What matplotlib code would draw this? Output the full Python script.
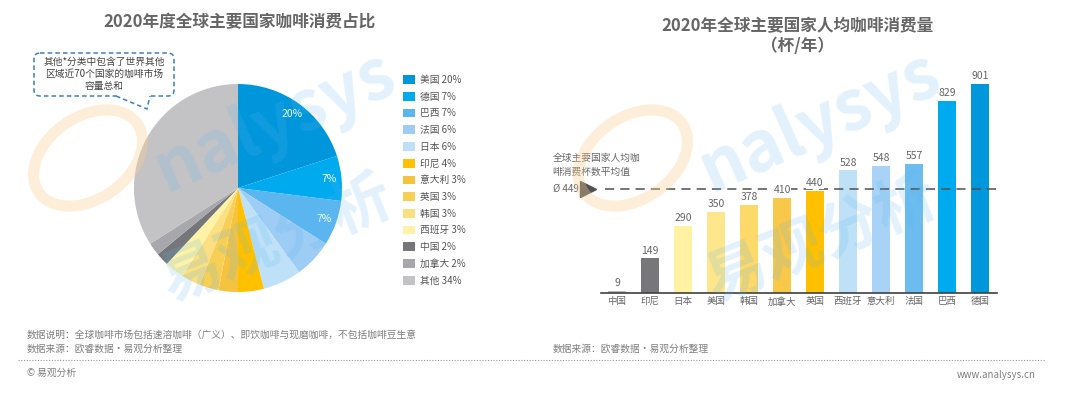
import matplotlib
matplotlib.use("Agg")
import matplotlib.pyplot as plt
from matplotlib.patches import FancyBboxPatch, Ellipse

plt.rcParams['font.family'] = ['Noto Sans CJK SC', 'DejaVu Sans']

# ---- data ----
pie_labels = ["美国", "德国", "巴西", "法国", "日本", "印尼", "意大利", "英国", "韩国", "西班牙", "中国", "加拿大", "其他"]
pie_values = [20, 7, 7, 6, 6, 4, 3, 3, 3, 3, 2, 2, 34]
pie_colors = ["#0096DB", "#00AAEF", "#5BB5EF", "#9DCDF5", "#BEE1F8", "#FFC000", "#F6C340",
              "#F8CF55", "#FBDF80", "#FEF2A6", "#75767A", "#A8A8AC", "#C3C3C5"]

bar_cats = ["中国", "印尼", "日本", "美国", "韩国", "加拿大", "英国", "西班牙", "意大利", "法国", "巴西", "德国"]
bar_values = [9, 149, 290, 350, 378, 410, 440, 528, 548, 557, 829, 901]
bar_colors = ["#BDBDBD", "#77777B", "#FFF3A3", "#FEE68C", "#FDD96A", "#F8C84A", "#FFC000",
              "#BEE1F8", "#A8D3F6", "#6DBCF0", "#00AAEF", "#0098DB"]
avg_value = 449

W, H = 1080, 396
fig = plt.figure(figsize=(W / 100, H / 100), dpi=100)

def fr(x0, y0, x1, y1):
    # pixel box -> figure fraction rect
    return [x0 / W, 1 - y1 / H, (x1 - x0) / W, (y1 - y0) / H]

# ---- pie ----
axp = fig.add_axes(fr(134, 84, 342, 292))
wedges, _, autotexts = axp.pie(
    pie_values, colors=pie_colors, startangle=90, counterclock=False,
    autopct=lambda p: "%d%%" % round(p) if 6.5 <= p <= 25 else "", pctdistance=0.88,
    wedgeprops=dict(linewidth=0), textprops=dict(color="white", fontsize=7.5))
axp.set_xlim(-1, 1)
axp.set_ylim(-1, 1)
axp.set_aspect("equal")

leg = axp.legend(wedges, ["%s %d%%" % (l, v) for l, v in zip(pie_labels, pie_values)],
                 loc="upper left", bbox_to_anchor=(403 / W, 1 - 75 / H),
                 bbox_transform=fig.transFigure, frameon=False, fontsize=7,
                 handlelength=1.2, handleheight=1.0, handletextpad=0.5,
                 labelspacing=0.69, borderpad=0, borderaxespad=0)
for t in leg.get_texts():
    t.set_color("#555555")

# ---- bars ----
axb = fig.add_axes(fr(601, 60, 997, 293))
x = list(range(len(bar_cats)))
axb.bar(x, bar_values, width=0.55, color=bar_colors, zorder=2)
axb.set_xlim(-0.485, 11.515)
axb.set_ylim(0, 1004)
for s in ["top", "right", "left"]:
    axb.spines[s].set_visible(False)
axb.spines["bottom"].set_color("#404040")
axb.spines["bottom"].set_linewidth(1.2)
axb.set_yticks([])
axb.set_xticks(x)
axb.set_xticklabels(bar_cats, fontsize=6.8, color="#666666")
axb.tick_params(axis="x", length=0, pad=3)
axb.axhline(avg_value, xmin=0.01, xmax=1, color="#505050", lw=1.1,
            dashes=(6, 4), zorder=3)
for xi, v in zip(x, bar_values):
    axb.text(xi, v + 12, str(v), ha="center", va="bottom", fontsize=7.5,
             color="#666666", zorder=4,
             bbox=dict(facecolor="white", edgecolor="none", pad=0.3))
axb.plot([-0.87], [avg_value], marker=">", markersize=11, color="#505050",
         clip_on=False, zorder=4)
axb.text(-1.95, avg_value, "Ø 449", ha="left", va="center", fontsize=7,
         color="#666666")
axb.text(-1.95, avg_value + 134, "全球主要国家人均咖", ha="left", va="center",
         fontsize=7, color="#666666")
axb.text(-1.95, avg_value + 73, "啡消费杯数平均值", ha="left", va="center",
         fontsize=7, color="#666666")

# ---- overlay: titles, notes, watermark ----
ov = fig.add_axes([0, 0, 1, 1])
ov.set_xlim(0, W)
ov.set_ylim(H, 0)
ov.axis("off")
ov.patch.set_visible(False)

def watermark(dx):
    ov.add_patch(Ellipse((88 + dx, 158), 120, 82, angle=-35, fill=False,
                         edgecolor="#FBCF93", lw=8, alpha=0.35))
    ov.text(275 + dx, 122, "nalysys", fontsize=50, fontweight="bold",
            color="#5BB5EF", alpha=0.18, rotation=24, ha="center", va="center")
    ov.text(277 + dx, 240, "易观分析", fontsize=44, fontweight="bold",
            color="#5BB5EF", alpha=0.18, rotation=22, ha="center", va="center")

watermark(0)
watermark(545)

title_kw = dict(ha="center", va="center", fontsize=12, fontweight="bold", color="#666666")
ov.text(240, 22, "2020年度全球主要国家咖啡消费占比", **title_kw)
ov.text(797, 26, "2020年全球主要国家人均咖啡消费量", **title_kw)
ov.text(797, 46, "（杯/年）", **title_kw)

# callout box
ov.add_patch(FancyBboxPatch((34, 53), 140, 43, boxstyle="round,pad=0,rounding_size=6",
                            fill=True, facecolor="white", edgecolor="#3C7FC8",
                            lw=1.1, ls=(0, (3, 2))))
ov.plot([118, 148], [96, 96], color="white", lw=2.5)
ov.plot([116, 147, 150], [96, 109, 96], color="#3C7FC8", lw=1.1, ls=(0, (3, 2)))
ov.text(104, 74, "其他*分类中包含了世界其他\n区域近70个国家的咖啡市场\n容量总和",
        ha="center", va="center", fontsize=7, color="#444444", linespacing=1.25)

ov.text(27, 335, "数据说明：全球咖啡市场包括速溶咖啡（广义）、即饮咖啡与现磨咖啡，不包括咖啡豆生意",
        ha="left", va="center", fontsize=7, color="#7F7F7F")
ov.text(27, 349, "数据来源：欧睿数据·易观分析整理", ha="left", va="center",
        fontsize=7, color="#7F7F7F")
ov.text(553, 349, "数据来源：欧睿数据·易观分析整理", ha="left", va="center",
        fontsize=7, color="#7F7F7F")
ov.plot([18, 1045], [360, 360], color="#999999", lw=0.8, ls=(0, (1, 1.5)))
ov.text(27, 373, "© 易观分析", ha="left", va="center", fontsize=7, color="#7F7F7F")
ov.text(1036, 375, "www.analysys.cn", ha="right", va="center", fontsize=7,
        color="#7F7F7F")

fig.savefig("out.png", dpi=100)
